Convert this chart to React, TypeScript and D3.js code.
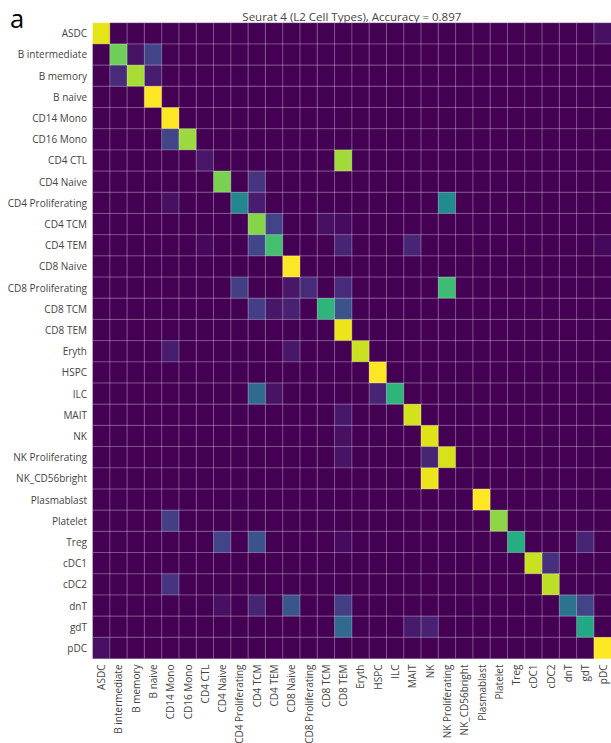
import React from "react";
import * as d3 from "d3";

const categories = [
  "ASDC", "B intermediate", "B memory", "B naive", "CD14 Mono", "CD16 Mono",
  "CD4 CTL", "CD4 Naive", "CD4 Proliferating", "CD4 TCM", "CD4 TEM",
  "CD8 Naive", "CD8 Proliferating", "CD8 TCM", "CD8 TEM", "Eryth", "HSPC",
  "ILC", "MAIT", "NK", "NK Proliferating", "NK_CD56bright", "Plasmablast",
  "Platelet", "Treg", "cDC1", "cDC2", "dnT", "gdT", "pDC",
];

// Non-zero cells of the row-normalised confusion matrix: [row, column, value]
const cells: [number, number, number][] = [
  [0, 0, 0.96], [0, 29, 0.04],
  [1, 1, 0.78], [1, 2, 0.05], [1, 3, 0.2],
  [2, 1, 0.12], [2, 2, 0.87], [2, 3, 0.08],
  [3, 3, 1.0],
  [4, 4, 1.0],
  [5, 4, 0.2], [5, 5, 0.85],
  [6, 6, 0.06], [6, 14, 0.86],
  [7, 7, 0.8], [7, 9, 0.15],
  [8, 4, 0.04], [8, 8, 0.46], [8, 9, 0.08], [8, 20, 0.48],
  [9, 9, 0.82], [9, 10, 0.2], [9, 13, 0.04], [9, 14, 0.03],
  [10, 6, 0.02], [10, 9, 0.21], [10, 10, 0.7], [10, 14, 0.1], [10, 18, 0.1], [10, 29, 0.02],
  [11, 11, 1.0],
  [12, 8, 0.18], [12, 11, 0.06], [12, 12, 0.12], [12, 14, 0.12], [12, 20, 0.69],
  [13, 9, 0.18], [13, 10, 0.06], [13, 11, 0.09], [13, 13, 0.65], [13, 14, 0.25],
  [14, 14, 0.97],
  [15, 4, 0.08], [15, 11, 0.06], [15, 15, 0.92],
  [16, 16, 1.0],
  [17, 9, 0.34], [17, 10, 0.05], [17, 16, 0.1], [17, 17, 0.65],
  [18, 14, 0.06], [18, 18, 0.93],
  [19, 14, 0.04], [19, 19, 0.95],
  [20, 14, 0.05], [20, 19, 0.1], [20, 20, 0.94],
  [21, 19, 0.97],
  [22, 22, 1.0],
  [23, 4, 0.18], [23, 23, 0.83],
  [24, 7, 0.2], [24, 9, 0.25], [24, 14, 0.03], [24, 24, 0.62], [24, 28, 0.1],
  [25, 25, 0.92], [25, 26, 0.14],
  [26, 4, 0.15], [26, 26, 0.9],
  [27, 7, 0.04], [27, 9, 0.1], [27, 11, 0.26], [27, 14, 0.18], [27, 27, 0.38], [27, 28, 0.2],
  [28, 14, 0.34], [28, 18, 0.07], [28, 19, 0.09], [28, 28, 0.6],
  [29, 0, 0.04], [29, 29, 1.0],
];

const title = "Seurat 4 (L2 Cell Types), Accuracy = 0.897";
const panelLabel = "a";

const W = 611;
const H = 743;
const left = 92.5;
const right = 611.2;
const top = 22.7;
const bottom = 658.5;
const font = "'Open Sans', 'DejaVu Sans', sans-serif";

export default function App() {
  const x = d3.scaleBand<string>().domain(categories).range([left, right]);
  const y = d3.scaleBand<string>().domain(categories).range([top, bottom]);
  const color = d3.scaleSequential(d3.interpolateViridis).domain([0, 1]);

  const matrix: number[][] = categories.map(() => categories.map(() => 0));
  cells.forEach(([r, c, v]) => {
    matrix[r][c] = v;
  });

  const bw = x.bandwidth();
  const bh = y.bandwidth();

  return (
    <div style={{ position: "absolute", left: 0, top: 0 }}>
      <svg width={W} height={H} style={{ display: "block", background: "#fff" }}>
        <text x={10} y={27.5} fontFamily={font} fontSize={25.5} fill="#000">
          {panelLabel}
        </text>
        <text
          x={(left + right) / 2}
          y={20.5}
          textAnchor="middle"
          fontFamily={font}
          fontSize={11.5}
          fill="#444"
        >
          {title}
        </text>
        <g>
          {matrix.map((row, ri) =>
            row.map((v, ci) => (
              <rect
                key={`${ri}-${ci}`}
                x={x(categories[ci])}
                y={y(categories[ri])}
                width={bw + 0.5}
                height={bh + 0.5}
                fill={color(v)}
              />
            ))
          )}
        </g>
        <g stroke="rgba(255,255,255,0.32)" strokeWidth={1}>
          {categories.map((c, i) => (
            <line key={`v${i}`} x1={x(c)} x2={x(c)} y1={top} y2={bottom} />
          ))}
          {categories.map((c, i) => (
            <line key={`h${i}`} x1={left} x2={right} y1={y(c)} y2={y(c)} />
          ))}
          <line x1={left} x2={right} y1={bottom} y2={bottom} />
        </g>
        <g fontFamily={font} fontSize={10} fill="#444">
          {categories.map((c) => (
            <text
              key={`y${c}`}
              x={87}
              y={(y(c) as number) + bh / 2}
              textAnchor="end"
              dominantBaseline="central"
            >
              {c}
            </text>
          ))}
          {categories.map((c) => (
            <text
              key={`x${c}`}
              transform={`translate(${(x(c) as number) + bw / 2},${bottom + 6}) rotate(-90)`}
              textAnchor="end"
              dominantBaseline="central"
            >
              {c}
            </text>
          ))}
        </g>
      </svg>
    </div>
  );
}
